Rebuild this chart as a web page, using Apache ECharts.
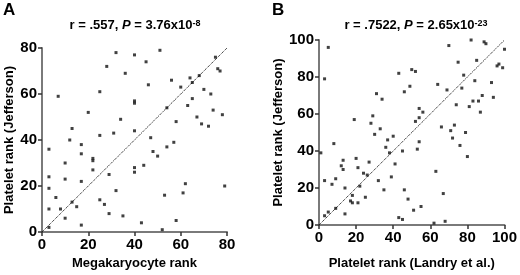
<!DOCTYPE html>
<html>
<head>
<meta charset="utf-8">
<script src="https://cdn.jsdelivr.net/npm/echarts@6/dist/echarts.min.js"></script>
<style>
  html, body { margin: 0; padding: 0; background: #fff; }
  #chart { width: 520px; height: 275px; }
</style>
</head>
<body>
<div id="chart"></div>
<script>
// panel A: megakaryocyte rank vs platelet rank (Jefferson)
var pointsA = [
  [7, 59], [32, 78], [40, 77], [51, 79], [28, 72], [36, 69], [45, 74], [25, 61],
  [20, 52], [34, 49], [40, 57], [40, 56], [46, 64], [56, 66], [60, 63], [64, 67],
  [65, 65], [68, 68], [75, 76], [76, 71], [77, 70], [70, 62], [73, 60], [65, 58],
  [63, 55], [54, 54], [58, 48], [67, 50], [69, 47], [72, 46], [74, 53], [78, 51],
  [13, 45], [25, 42], [31, 43], [40, 44], [47, 41], [12, 40], [17, 38], [17, 34],
  [3, 36], [10, 30], [22, 32], [22, 31], [22, 27], [3, 24], [10, 23], [3, 19],
  [17, 22], [29, 25], [40, 28], [40, 26], [44, 29], [48, 35], [50, 33], [54, 37],
  [57, 39], [6, 15], [3, 10], [8, 10], [13, 13], [15, 11], [10, 6], [3, 2],
  [17, 3], [25, 14], [27, 12], [29, 8], [32, 18], [35, 7], [43, 4], [52, 1],
  [53, 16], [58, 5], [61, 17], [62, 21], [79, 20]
];
var diagA = [[0, 0], [80, 80]];
var ticksA = [0, 20, 40, 60, 80];

// panel B: platelet rank (Landry) vs platelet rank (Jefferson)
var pointsB = [
  [5, 96], [3, 79], [70, 97], [82, 100], [89, 99], [90, 98], [100, 95], [75, 88],
  [85, 89], [96, 86], [97, 87], [99, 85], [50, 84], [52, 83], [43, 82], [49, 75],
  [46, 72], [64, 76], [69, 73], [78, 81], [84, 78], [77, 74], [93, 77], [88, 70],
  [94, 69], [31, 71], [34, 68], [74, 65], [83, 67], [86, 67], [81, 64], [87, 61],
  [54, 63], [56, 61], [54, 58], [52, 56], [19, 57], [29, 59], [28, 55], [33, 52],
  [30, 49], [40, 48], [37, 46], [66, 53], [71, 51], [73, 54], [79, 50], [72, 47],
  [1, 39], [8, 44], [13, 35], [12, 32], [13, 30], [20, 36], [21, 31], [27, 34],
  [24, 28], [26, 27], [3, 24], [9, 25], [7, 22], [14, 20], [22, 21], [25, 15],
  [18, 16], [17, 13], [18, 12], [21, 12], [32, 24], [35, 19], [39, 26], [41, 33],
  [38, 39], [36, 42], [45, 40], [53, 41], [54, 45], [3, 5], [5, 7], [9, 9],
  [14, 6], [46, 19], [48, 14], [51, 8], [55, 10], [43, 4], [45, 3], [63, 29],
  [67, 17], [62, 1], [68, 2], [76, 43], [80, 37]
];
var diagB = [[0, 0], [100, 100]];
var ticksB = [0, 20, 40, 60, 80, 100];

var font = "Liberation Sans, Arial, sans-serif";
var axisGray = "#7a7a7a";

function makeAxis(ticks, name, gap) {
  return {
    type: "value",
    min: ticks[0],
    max: ticks[ticks.length - 1],
    interval: ticks[1] - ticks[0],
    name: name,
    nameLocation: "middle",
    nameGap: gap,
    nameTextStyle: { color: "#000", fontFamily: font, fontWeight: "bold", fontSize: 13 },
    axisLine: { show: true, lineStyle: { color: axisGray, width: 2 } },
    axisTick: { show: true, length: 4, lineStyle: { color: "#333", width: 1.5 } },
    axisLabel: { color: "#000", fontFamily: font, fontWeight: "bold", fontSize: 15, margin: 5 },
    splitLine: { show: false }
  };
}

var titleRich = {
  a: { fontFamily: font, fontWeight: "bold", fontSize: 13, fill: "#000" },
  i: { fontFamily: font, fontWeight: "bold", fontStyle: "italic", fontSize: 13, fill: "#000" },
  s: { fontFamily: font, fontWeight: "bold", fontSize: 9, fill: "#000", verticalAlign: "top" }
};

var chart = echarts.init(document.getElementById("chart"));
var option = {
  animation: false,
  backgroundColor: "#fff",
  grid: [
    { left: 42, top: 48, width: 185, height: 184 },
    { left: 319, top: 40, width: 187, height: 187 }
  ],
  xAxis: [
    Object.assign(makeAxis(ticksA, "Megakaryocyte rank", 24), { gridIndex: 0 }),
    Object.assign(makeAxis(ticksB, "Platelet rank (Landry et al.)", 32), { gridIndex: 1 })
  ],
  yAxis: [
    Object.assign(makeAxis(ticksA, "Platelet rank (Jefferson)", 25), { gridIndex: 0 }),
    Object.assign(makeAxis(ticksB, "Platelet rank (Jefferson)", 32), { gridIndex: 1 })
  ],
  graphic: [
    { type: "text", left: 3, top: 2, style: { text: "A", font: "bold 17px " + font, fill: "#000" } },
    { type: "text", left: 272, top: 2, style: { text: "B", font: "bold 17px " + font, fill: "#000" } },
    {
      type: "text", x: 135, y: 19,
      style: { text: "{a|r = .557, }{i|P}{a| = 3.76x10}{s|-8}", rich: titleRich, align: "center" }
    },
    {
      type: "text", x: 416, y: 19,
      style: { text: "{a|r = .7522, }{i|P}{a| = 2.65x10}{s|-23}", rich: titleRich, align: "center" }
    }
  ],
  series: [
    {
      type: "line", xAxisIndex: 0, yAxisIndex: 0, data: diagA, showSymbol: false,
      lineStyle: { type: "dotted", width: 1, color: "#000" }, silent: true
    },
    {
      type: "scatter", xAxisIndex: 0, yAxisIndex: 0, data: pointsA,
      symbol: "rect", symbolSize: 3, itemStyle: { color: "#111" }
    },
    {
      type: "line", xAxisIndex: 1, yAxisIndex: 1, data: diagB, showSymbol: false,
      lineStyle: { type: "dotted", width: 1, color: "#000" }, silent: true
    },
    {
      type: "scatter", xAxisIndex: 1, yAxisIndex: 1, data: pointsB,
      symbol: "rect", symbolSize: 3, itemStyle: { color: "#111" }
    }
  ]
};
chart.setOption(option);
</script>
</body>
</html>
